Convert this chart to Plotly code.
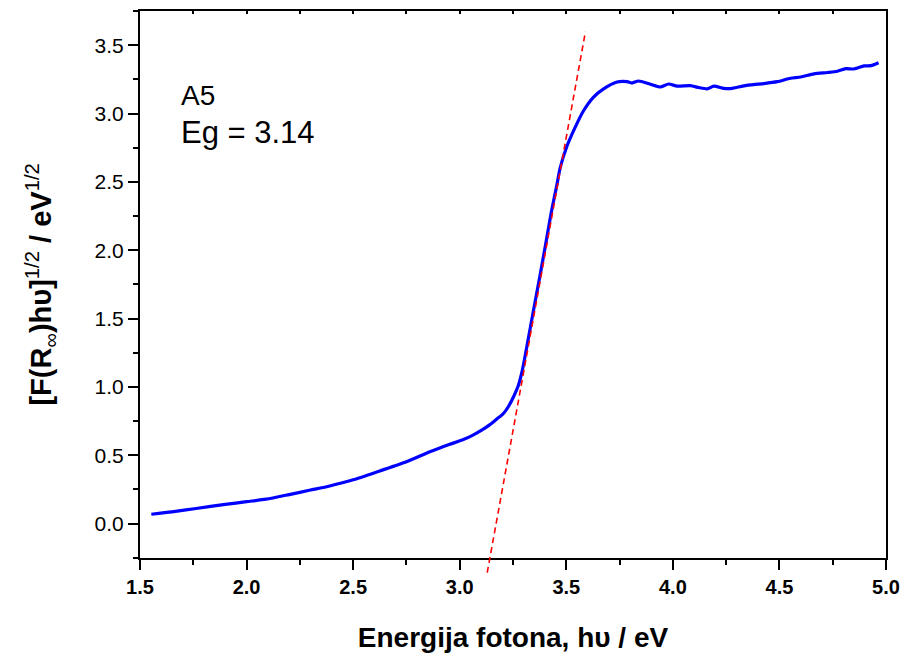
import plotly.graph_objects as go

# ---- data ----
energy = [1.553, 1.65, 1.763, 1.9, 2.0, 2.092, 2.2, 2.3, 2.39, 2.5, 2.625, 2.75, 2.86,
          2.95, 3.017, 3.06, 3.103, 3.14, 3.174, 3.205, 3.23, 3.252, 3.275, 3.295, 3.318,
          3.345, 3.375, 3.404, 3.43, 3.455, 3.471, 3.503, 3.542, 3.581, 3.628, 3.675,
          3.738, 3.785, 3.808, 3.839, 3.894, 3.941, 3.98, 4.02, 4.082, 4.121, 4.161,
          4.192, 4.239, 4.27, 4.302, 4.365, 4.427, 4.49, 4.552, 4.6, 4.662, 4.725,
          4.772, 4.811, 4.85, 4.897, 4.929, 4.965]
kubelka = [0.068, 0.085, 0.11, 0.14, 0.16, 0.178, 0.212, 0.245, 0.275, 0.32, 0.385, 0.452,
           0.525, 0.578, 0.614, 0.645, 0.683, 0.722, 0.765, 0.805, 0.86, 0.926, 1.01,
           1.13, 1.32, 1.55, 1.8, 2.05, 2.28, 2.47, 2.6, 2.76, 2.90, 3.02, 3.12, 3.18,
           3.23, 3.233, 3.223, 3.238, 3.214, 3.194, 3.216, 3.2, 3.204, 3.19, 3.18, 3.2,
           3.184, 3.182, 3.192, 3.209, 3.219, 3.233, 3.258, 3.267, 3.29, 3.3, 3.309,
           3.328, 3.326, 3.348, 3.35, 3.372]

tangent_x = [3.129, 3.59]
tangent_y = [-0.36, 3.60]

x_ticks = [1.5, 2.0, 2.5, 3.0, 3.5, 4.0, 4.5, 5.0]
y_ticks = [0.0, 0.5, 1.0, 1.5, 2.0, 2.5, 3.0, 3.5]
x_range = [1.5, 5.0]
y_range = [-0.25, 3.75]

sample_label = "A5"
eg_label = "Eg = 3.14"

# ---- layout geometry ----
W, H = 905, 659
m_l, m_r, m_t, m_b = 140, 19, 11, 84
plot_h = H - m_t - m_b
axis_bottom_px = 557.7
d = (m_t + plot_h - axis_bottom_px) / plot_h
y2_min = y_range[1] - (y_range[1] - y_range[0]) / (1 - d)

FONT = "Liberation Sans, Arial, sans-serif"

fig = go.Figure()
fig.add_trace(go.Scatter(x=energy, y=kubelka, mode="lines",
                         line=dict(color="#0000FF", width=3.2, shape="spline",
                                   smoothing=0.6),
                         showlegend=False, xaxis="x", yaxis="y"))
fig.add_trace(go.Scatter(x=tangent_x, y=tangent_y, mode="lines",
                         line=dict(color="#FF0000", width=1.6, dash="6px,4px"),
                         showlegend=False, xaxis="x", yaxis="y2"))
# helper trace for top ticks axis
fig.add_trace(go.Scatter(x=x_range, y=[None, None], mode="lines", showlegend=False,
                         xaxis="x3", yaxis="y", hoverinfo="skip"))

fig.update_layout(
    width=W, height=H,
    margin=dict(l=m_l, r=m_r, t=m_t, b=m_b, autoexpand=False),
    paper_bgcolor="white", plot_bgcolor="rgba(0,0,0,0)",
    font=dict(family=FONT, color="black"),
    xaxis=dict(range=x_range, domain=[0, 1], anchor="y",
               tickvals=x_ticks, ticktext=["<b>%.1f</b>" % v for v in x_ticks],
               ticks="outside", ticklen=10, tickwidth=2, tickcolor="black",
               minor=dict(ticks="outside", ticklen=5, tickwidth=2, dtick=0.25,
                          tick0=1.5, tickcolor="black"),
               showline=True, linewidth=2, linecolor="black", mirror=True,
               showgrid=False, zeroline=False,
               tickfont=dict(size=20, family=FONT, color="black"),
               title=dict(text="<b>Energija fotona, h\u03c5 / eV</b>",
                          font=dict(size=28, family=FONT, color="black"),
                          standoff=31)),
    xaxis3=dict(range=x_range, overlaying="x", side="top", anchor="y",
                tickvals=x_ticks, showticklabels=False,
                ticks="inside", ticklen=3, tickwidth=1.5, tickcolor="black",
                minor=dict(ticks="inside", ticklen=3, tickwidth=1.5, dtick=0.25,
                           tick0=1.5, tickcolor="black"),
                showline=False, showgrid=False, zeroline=False),
    yaxis=dict(range=y_range, domain=[d, 1], anchor="x",
               tickvals=y_ticks, ticktext=["%.1f" % v for v in y_ticks],
               ticks="outside", ticklen=10, tickwidth=2, tickcolor="black",
               minor=dict(ticks="outside", ticklen=5, tickwidth=2, dtick=0.25,
                          tick0=0, tickcolor="black"),
               showline=True, linewidth=2, linecolor="black", mirror=True,
               showgrid=False, zeroline=False,
               tickfont=dict(size=21, family=FONT, color="black"),
               title=dict(text="<b>[F(R</b><sub>\u221e</sub><b>)h\u03c5]</b><sup>1/2</sup><b> / eV</b><sup>1/2</sup>",
                          font=dict(size=29, family=FONT, color="black"),
                          standoff=34)),
    yaxis2=dict(range=[y2_min, y_range[1]], domain=[0, 1], anchor="x",
                visible=False, showgrid=False, zeroline=False),
    annotations=[
        dict(x=1.683, y=3.133, xref="x", yref="y", text=sample_label, showarrow=False,
             xanchor="left", yanchor="middle",
             font=dict(size=28, family=FONT, color="black")),
        dict(x=1.683, y=2.861, xref="x", yref="y", text=eg_label, showarrow=False,
             xanchor="left", yanchor="middle",
             font=dict(size=31, family=FONT, color="black")),
    ],
)

fig.write_html("out.html")
